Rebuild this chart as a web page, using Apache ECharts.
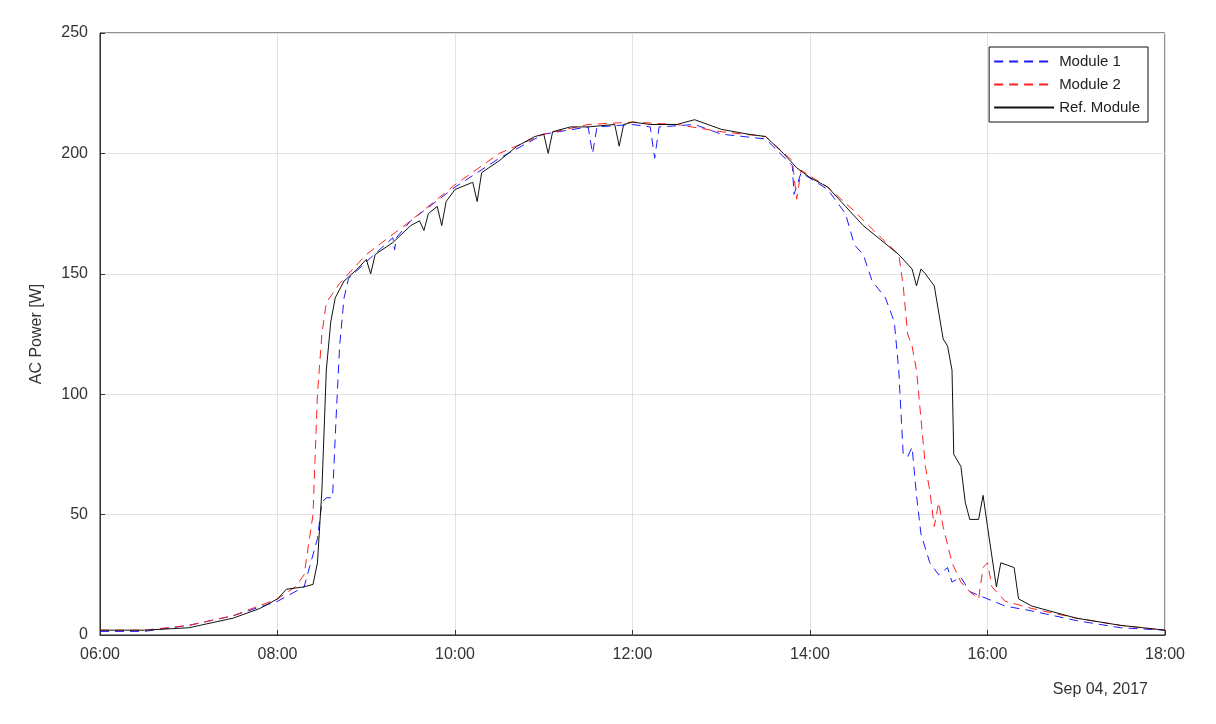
<!DOCTYPE html><html><head><meta charset="utf-8"><script src="https://cdn.jsdelivr.net/npm/echarts@6/dist/echarts.min.js"></script>
<style>html,body{margin:0;background:#fff}#c{width:1216px;height:724px}</style></head><body><div id="c"></div><script>
const module1=[[6,1.5],[6.5,1.5],[7,4],[7.5,8],[8,14],[8.3,20],[8.45,40],[8.5,55],[8.55,57],[8.62,57],[8.66,90],[8.7,120],[8.75,140],[8.8,148],[9,155],[9.3,165],[9.32,160],[9.34,165],[9.5,172],[10,186],[10.5,198],[11,208],[11.5,211],[11.55,200],[11.6,211],[12,212],[12.2,211],[12.25,198],[12.3,211],[12.7,212],[13,208],[13.5,206],[13.8,195],[13.82,183],[13.9,192],[14.2,185],[14.4,175],[14.5,162],[14.6,158],[14.7,147],[14.85,140],[14.95,130],[15,110],[15.05,75],[15.1,74],[15.15,78],[15.2,58],[15.25,42],[15.35,30],[15.45,25],[15.55,28],[15.6,22],[15.7,24],[15.8,18],[16,15],[16.2,12],[16.5,10],[17,6],[17.5,3],[18,2]];
const module2=[[6,2],[6.5,2],[7,4],[7.5,8],[8,15],[8.2,20],[8.3,25],[8.4,50],[8.45,100],[8.5,125],[8.55,138],[8.7,146],[9,158],[9.5,172],[10,187],[10.5,200],[11,208],[11.5,212],[12,213],[12.5,212],[13,209],[13.5,207],[13.8,197],[13.85,181],[13.9,193],[14.2,186],[14.5,176],[14.8,165],[15,158],[15.05,145],[15.1,125],[15.15,120],[15.2,110],[15.3,70],[15.35,60],[15.4,45],[15.45,55],[15.5,45],[15.6,30],[15.7,22],[15.8,18],[15.9,15],[15.95,28],[16,30],[16.05,20],[16.2,14],[16.5,11],[17,7],[17.5,4],[18,2]];
const refModule=[[6,2],[6.5,2],[7,3],[7.5,7],[7.8,11],[8,15],[8.1,19],[8.3,20],[8.4,21],[8.45,30],[8.5,60],[8.55,110],[8.6,130],[8.65,140],[8.75,147],[8.9,152],[9,156],[9.05,150],[9.1,158],[9.3,163],[9.5,170],[9.6,172],[9.65,168],[9.7,175],[9.8,178],[9.85,170],[9.9,180],[10,185],[10.2,188],[10.25,180],[10.3,192],[10.5,197],[10.7,203],[10.9,207],[11,208],[11.05,200],[11.1,209],[11.3,211],[11.5,211],[11.8,212],[11.85,203],[11.9,212],[12,213],[12.2,212],[12.5,212],[12.7,214],[13,210],[13.3,208],[13.5,207],[13.7,200],[13.85,194],[14,190],[14.2,186],[14.4,178],[14.6,170],[14.8,164],[15,158],[15.15,152],[15.2,145],[15.25,152],[15.3,150],[15.4,145],[15.5,123],[15.55,120],[15.6,110],[15.62,75],[15.7,70],[15.75,55],[15.8,48],[15.9,48],[15.95,58],[16,45],[16.1,20],[16.15,30],[16.3,28],[16.35,15],[16.5,12],[17,7],[17.5,4],[18,2]];
const xTicks=[6,8,10,12,14,16,18];
const dateLabel='Sep 04, 2017';
const ch=echarts.init(document.getElementById('c'));
const f='Liberation Sans';
ch.setOption({
 animation:false,
 textStyle:{fontFamily:f},
 grid:{left:100,right:51,top:33,bottom:89,show:true,borderColor:'#222',borderWidth:1},
 graphic:[{type:'text',right:68,top:682,style:{text:dateLabel,font:'16px '+f,fill:'#333'}}],
 legend:{orient:'vertical',right:68,top:47,itemWidth:60,itemHeight:10,itemGap:8,itemStyle:{opacity:0},backgroundColor:'#fff',borderColor:'#111',borderWidth:1,padding:[7,8,7,4],textStyle:{fontSize:15,color:'#222'},data:['Module 1','Module 2','Ref. Module']},
 xAxis:{type:'value',min:6,max:18,interval:2,axisLine:{onZero:false,lineStyle:{color:'#333'}},axisTick:{inside:true,length:5},
   axisLabel:{fontSize:16,color:'#333',margin:12,formatter:v=>xTicks.includes(v)?String(v).padStart(2,'0')+':00':''},splitLine:{lineStyle:{color:'#e2e2e2'}}},
 yAxis:{type:'value',min:0,max:250,interval:50,name:'AC Power [W]',nameLocation:'middle',nameGap:55,nameTextStyle:{fontSize:16,color:'#333'},
   axisLine:{show:true,lineStyle:{color:'#333'}},axisTick:{show:true,inside:true,length:5},axisLabel:{fontSize:16,color:'#333',margin:12},splitLine:{lineStyle:{color:'#e2e2e2'}}},
 series:[
  {name:'Module 1',type:'line',data:module1,symbol:'none',lineStyle:{color:'#1a1aff',width:1,type:[9,6]},itemStyle:{color:'#1a1aff'}},
  {name:'Module 2',type:'line',data:module2,symbol:'none',lineStyle:{color:'#ff2020',width:1,type:[9,6]},itemStyle:{color:'#ff2020'}},
  {name:'Ref. Module',type:'line',data:refModule,symbol:'none',lineStyle:{color:'#111',width:1},itemStyle:{color:'#111'}}
 ]});
</script></body></html>
